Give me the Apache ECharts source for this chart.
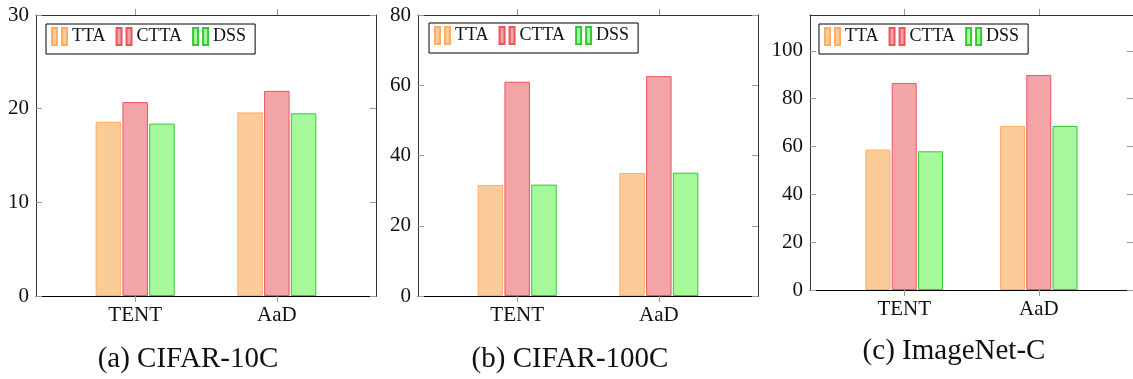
<!DOCTYPE html>
<html>
<head>
<meta charset="utf-8">
<script src="https://cdn.jsdelivr.net/npm/echarts@6/dist/echarts.min.js"></script>
<style>
  html, body { margin: 0; padding: 0; background: #fff; }
  #chart { width: 1133px; height: 379px; }
</style>
</head>
<body>
<div id="chart"></div>
<script>
// categories and methods
var categories = ['TENT', 'AaD'];
var methods = ['TTA', 'CTTA', 'DSS'];

// (a) CIFAR-10C
var c10Tta = [18.6, 19.6];
var c10Ctta = [20.7, 21.9];
var c10Dss = [18.4, 19.5];
var c10Ticks = [0, 10, 20, 30];

// (b) CIFAR-100C
var c100Tta = [31.6, 35.0];
var c100Ctta = [61.0, 62.6];
var c100Dss = [31.7, 35.1];
var c100Ticks = [0, 20, 40, 60, 80];

// (c) ImageNet-C
var inTta = [58.7, 68.6];
var inCtta = [86.6, 89.9];
var inDss = [58.0, 68.6];
var inTicks = [0, 20, 40, 60, 80, 100];

var captions = ['(a) CIFAR-10C', '(b) CIFAR-100C', '(c) ImageNet-C'];

var font = '"Liberation Serif", "Times New Roman", serif';
var fills = ['#fbcb98', '#f3a4a7', '#a6f99b'];
var borders = ['#fdae62', '#ec5560', '#35c835'];
var catIdx = categories.map(function(c, i) { return i; });

var panels = [
    { data: [c10Tta, c10Ctta, c10Dss], ticks: c10Ticks, max: 30,
      grid: { left: 36, top: 15, right: 757, bottom: 83 }, barW: 25.5,
      legend: { left: 46, top: 24 }, cap: { x: 188, y: 374 } },
    { data: [c100Tta, c100Ctta, c100Dss], ticks: c100Ticks, max: 80,
      grid: { left: 418, top: 15, right: 375, bottom: 83 }, barW: 25.5,
      legend: { left: 429, top: 23 }, cap: { x: 570, y: 374 } },
    { data: [inTta, inCtta, inDss], ticks: inTicks, max: 115,
      grid: { left: 810, top: 15, right: -7, bottom: 89 }, barW: 25,
      legend: { left: 819, top: 24 }, cap: { x: 954, y: 366 } }
];

var option = {
    animation: false,
    backgroundColor: '#fff',
    grid: [], xAxis: [], yAxis: [], legend: [], series: [], graphic: []
};

panels.forEach(function(p, gi) {
    option.grid.push(p.grid);
    var frame = { show: true, onZero: false, lineStyle: { color: '#333', width: 1 } };
    var tickStyle = { color: '#999', width: 1 };
    // bottom x axis with category labels
    option.xAxis.push({
        type: 'value', gridIndex: gi, min: -0.7, max: 1.7, position: 'bottom',
        axisLine: { show: true, onZero: false, lineStyle: { color: '#000', width: 1.2 } },
        axisTick: { show: true, length: 6, lineStyle: tickStyle, customValues: catIdx },
        axisLabel: {
            customValues: catIdx, margin: 9,
            formatter: function(v) { return categories[Math.round(v)]; },
            fontFamily: font, fontSize: 21, color: '#111'
        },
        splitLine: { show: false }
    });
    // top x axis, frame only
    option.xAxis.push({
        type: 'value', gridIndex: gi, min: -0.7, max: 1.7, position: 'top',
        axisLine: frame,
        axisTick: { show: true, length: 6, lineStyle: tickStyle, customValues: catIdx },
        axisLabel: { show: false },
        splitLine: { show: false }
    });
    option.yAxis.push({
        type: 'value', gridIndex: gi, min: 0, max: p.max, position: 'left',
        axisLine: frame,
        axisTick: { show: true, inside: true, length: 6, lineStyle: tickStyle, customValues: p.ticks },
        axisLabel: { customValues: p.ticks, margin: 7, fontFamily: font, fontSize: 21, color: '#111' },
        splitLine: { show: false }
    });
    option.yAxis.push({
        type: 'value', gridIndex: gi, min: 0, max: p.max, position: 'right',
        axisLine: frame,
        axisTick: { show: true, inside: true, length: 6, lineStyle: tickStyle, customValues: p.ticks },
        axisLabel: { show: false },
        splitLine: { show: false }
    });

    option.legend.push({
        data: methods, left: p.legend.left, top: p.legend.top,
        orient: 'horizontal', itemGap: 10, itemWidth: 15, itemHeight: 17,
        icon: 'path://M0,0h5v17h-5z M10,0h5v17h-5z',
        padding: [3, 9, 8, 5], borderColor: '#000', borderWidth: 1,
        textStyle: { fontFamily: font, fontSize: 18, color: '#111', padding: [3, 0, 0, 0] },
        selectedMode: false
    });

    methods.forEach(function(m, si) {
        option.series.push({
            name: m, type: 'bar', xAxisIndex: gi * 2, yAxisIndex: gi * 2,
            barWidth: p.barW, barGap: '5%',
            itemStyle: { color: fills[si], borderColor: borders[si], borderWidth: 1 },
            data: p.data[si].map(function(v, ci) { return [ci, v]; })
        });
    });

    option.graphic.push({
        type: 'text', x: p.cap.x, y: p.cap.y,
        style: {
            text: captions[gi], fontFamily: font, fontSize: 29, fill: '#111',
            textAlign: 'center', textVerticalAlign: 'bottom'
        }
    });
});

var chart = echarts.init(document.getElementById('chart'));
chart.setOption(option);
</script>
</body>
</html>
